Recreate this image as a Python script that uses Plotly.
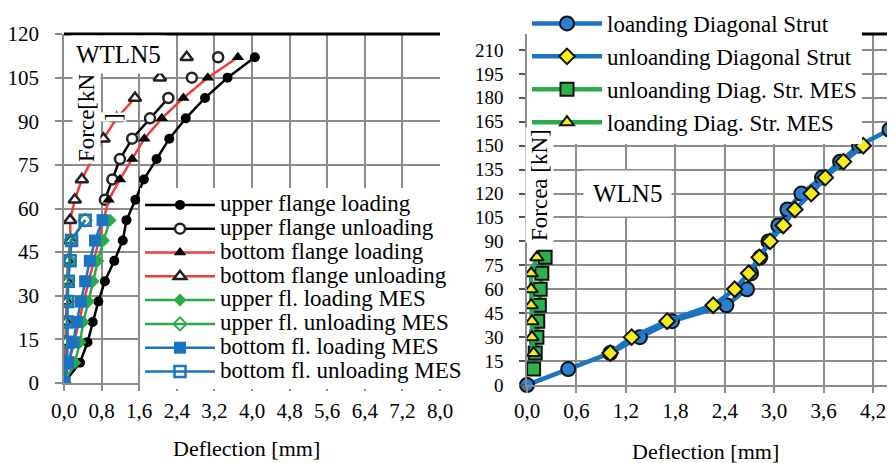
import plotly.graph_objects as go

W, H = 895, 463
OFF = 8  # page body margin of the html page

# ---------------- data: left panel (WTLN5) ----------------
force_left = [0, 7, 14, 21, 28, 35, 42, 49, 56, 63, 70, 77, 84, 91, 98, 105, 112]
upper_loading = [0, 0.34, 0.50, 0.61, 0.73, 0.87, 1.07, 1.25, 1.33, 1.52, 1.70, 1.97, 2.24, 2.59, 3.00, 3.48, 4.06]
upper_unloading_force = [63, 70, 77, 84, 91, 98, 105, 112]
upper_unloading = [0.87, 1.03, 1.19, 1.45, 1.83, 2.22, 2.72, 3.28]
bottom_loading = [0, 0.11, 0.21, 0.32, 0.42, 0.53, 0.63, 0.74, 0.84, 0.95, 1.19, 1.45, 1.71, 2.08, 2.54, 3.06, 3.70]
bottom_unloading = [0, 0.02, 0.03, 0.04, 0.05, 0.06, 0.08, 0.14, 0.13, 0.23, 0.38, 0.60, 0.84, 1.12, 1.51, 2.04, 2.61]
force_mes = [0, 7, 14, 21, 28, 35, 42, 49, 56]
upper_loading_mes = [0, 0.23, 0.34, 0.41, 0.52, 0.62, 0.72, 0.84, 0.98]
upper_unloading_mes = [0, 0.05, 0.07, 0.06, 0.07, 0.08, 0.11, 0.14, 0.45]
bottom_loading_mes = [0, 0.09, 0.20, 0.27, 0.36, 0.45, 0.55, 0.66, 0.82]
bottom_unloading_mes = [0, 0.06, 0.08, 0.07, 0.08, 0.09, 0.13, 0.16, 0.45]
left_xtickvals = [0, 0.8, 1.6, 2.4, 3.2, 4.0, 4.8, 5.6, 6.4, 7.2, 8.0]
left_xticktext = ["0,0", "0,8", "1,6", "2,4", "3,2", "4,0", "4,8", "5,6", "6,4", "7,2", "8,0"]
left_yticks = [0, 15, 30, 45, 60, 75, 90, 105, 120]

# ---------------- data: right panel (WLN5) ----------------
force_right = [0, 10, 20, 30, 40, 50, 60, 70, 80, 90, 100, 110, 120, 130, 140, 150, 160]
loading_ds = [0, 0.50, 1.01, 1.37, 1.76, 2.42, 2.67, 2.72, 2.83, 2.93, 3.05, 3.16, 3.33, 3.58, 3.80, 4.03, 4.40]
force_unload_ds = [20, 30, 40, 50, 60, 70, 80, 90, 100, 110, 120, 130, 140, 150]
unloading_ds = [1.01, 1.27, 1.70, 2.26, 2.52, 2.69, 2.82, 2.95, 3.11, 3.25, 3.45, 3.62, 3.84, 4.08]
force_unload_mes = [10, 20, 30, 40, 50, 60, 70, 80]
unloading_mes = [0.08, 0.10, 0.12, 0.13, 0.15, 0.16, 0.18, 0.22]
force_load_mes = [20, 30, 40, 50, 60, 70, 80]
loading_mes = [0.08, 0.06, 0.06, 0.05, 0.05, 0.05, 0.12]
right_xtickvals = [0, 0.6, 1.2, 1.8, 2.4, 3.0, 3.6, 4.2]
right_xticktext = ["0,0", "0,6", "1,2", "1,8", "2,4", "3,0", "3,6", "4,2"]
right_yticks = [0, 15, 30, 45, 60, 75, 90, 105, 120, 135, 150, 165, 180, 195, 210]

FONT = "Liberation Serif"
GRID = "#8c8c8c"
RED = "#f23c3c"
GREEN = "#2aaa4a"
BLUE = "#1c74c0"


def px(x):
    return (x - OFF) / W


def py(y):
    return 1 - (y - OFF) / H


def big(name):
    return '<span style="font-size:23px">' + name + "</span>"


fig = go.Figure()

# ---- left panel traces ----
fig.add_trace(go.Scatter(x=upper_loading, y=force_left, name=big("upper flange loading"), mode="lines+markers",
                         line=dict(color="black", width=2.5), marker=dict(symbol="circle", size=10, color="black"),
                         legend="legend"))
fig.add_trace(go.Scatter(x=upper_unloading[:6], y=upper_unloading_force[:6], name=big("upper flange unloading"),
                         mode="lines+markers", line=dict(color="black", width=2.5),
                         marker=dict(symbol="circle", size=10, color="white", line=dict(color="#222", width=2.5)),
                         legend="legend"))
fig.add_trace(go.Scatter(x=upper_unloading[6:], y=upper_unloading_force[6:], mode="markers", showlegend=False,
                         marker=dict(symbol="circle", size=10, color="white", line=dict(color="#222", width=2.5))))
fig.add_trace(go.Scatter(x=bottom_loading, y=force_left, name=big("bottom flange loading"), mode="lines+markers",
                         line=dict(color=RED, width=2.5), marker=dict(symbol="triangle-up", size=11, color="black"),
                         legend="legend"))
fig.add_trace(go.Scatter(x=bottom_unloading[:15], y=force_left[:15], name=big("bottom flange unloading"),
                         mode="lines+markers", line=dict(color=RED, width=2.5),
                         marker=dict(symbol="triangle-up", size=11, color="white", line=dict(color="#222", width=2.5)),
                         legend="legend"))
fig.add_trace(go.Scatter(x=bottom_unloading[15:], y=force_left[15:], mode="markers", showlegend=False,
                         marker=dict(symbol="triangle-up", size=11, color="white", line=dict(color="#222", width=2.5))))
fig.add_trace(go.Scatter(x=upper_loading_mes, y=force_mes, name=big("upper fl. loading MES"), mode="lines+markers",
                         line=dict(color=GREEN, width=2.5), marker=dict(symbol="diamond", size=10, color=GREEN),
                         legend="legend"))
fig.add_trace(go.Scatter(x=upper_unloading_mes, y=force_mes, name=big("upper fl. unloading MES"), mode="lines+markers",
                         line=dict(color=GREEN, width=2.5),
                         marker=dict(symbol="diamond-open", size=10, color=GREEN, line=dict(width=2)),
                         legend="legend"))
fig.add_trace(go.Scatter(x=bottom_loading_mes, y=force_mes, name=big("bottom fl. loading MES"), mode="lines+markers",
                         line=dict(color=BLUE, width=2.5), marker=dict(symbol="square", size=12, color=BLUE),
                         legend="legend"))
fig.add_trace(go.Scatter(x=bottom_unloading_mes, y=force_mes, name=big("bottom fl. unloading MES"),
                         mode="lines+markers", line=dict(color=BLUE, width=2.5),
                         marker=dict(symbol="square-open", size=11, color=BLUE, line=dict(width=2.5)),
                         legend="legend"))

# ---- right panel traces ----
fig.add_trace(go.Scatter(x=loading_ds, y=force_right, name="loanding Diagonal Strut", mode="lines+markers",
                         xaxis="x2", yaxis="y2", line=dict(color=BLUE, width=4.5),
                         marker=dict(symbol="circle", size=14, color="#2a80d4", line=dict(color="#111", width=2)),
                         legend="legend2", cliponaxis=False))
fig.add_trace(go.Scatter(x=unloading_ds, y=force_unload_ds, name="unloanding Diagonal Strut", mode="lines+markers",
                         xaxis="x2", yaxis="y2", line=dict(color=BLUE, width=4.5),
                         marker=dict(symbol="diamond", size=12, color="#f5ec1a", line=dict(color="#111", width=2)),
                         legend="legend2"))
fig.add_trace(go.Scatter(x=unloading_mes, y=force_unload_mes, name="unloanding Diag. Str. MES", mode="lines+markers",
                         xaxis="x2", yaxis="y2", line=dict(color=GREEN, width=4.5),
                         marker=dict(symbol="square", size=13, color="#2db14c", line=dict(color="#111", width=2)),
                         legend="legend2"))
fig.add_trace(go.Scatter(x=loading_mes, y=force_load_mes, name="loanding Diag. Str. MES", mode="lines+markers",
                         xaxis="x2", yaxis="y2", line=dict(color=GREEN, width=4.5),
                         marker=dict(symbol="triangle-up", size=12, color="#f5ec1a", line=dict(color="#111", width=2)),
                         legend="legend2"))

axis_common = dict(showgrid=True, gridcolor=GRID, gridwidth=1.6, zeroline=False, showline=True,
                   linecolor=GRID, linewidth=1.6, ticks="outside", tickcolor=GRID, tickwidth=1.6,
                   automargin=False,
                   tickfont=dict(family=FONT, size=21, color="black"))

fig.update_layout(
    width=W, height=H,
    margin=dict(l=0, r=0, t=0, b=0, autoexpand=False),
    paper_bgcolor="white", plot_bgcolor="white",
    font=dict(family=FONT, color="black"),
    xaxis=dict(axis_common, domain=[px(64), px(440)], range=[0, 8.0], tickvals=left_xtickvals,
               ticktext=left_xticktext, ticklen=6, ticklabelstandoff=2, anchor="y"),
    yaxis=dict(axis_common, domain=[py(383), py(34)], range=[0, 120], tickvals=left_yticks, ticklen=7,
               ticklabelstandoff=12, anchor="x"),
    xaxis2=dict(axis_common, domain=[px(527), 1.0], range=[0, 4.563], tickvals=right_xtickvals,
                ticktext=right_xticktext, ticklen=6, ticklabelstandoff=0, anchor="y2"),
    yaxis2=dict(axis_common, domain=[py(385), py(34)], range=[0, 220], tickvals=right_yticks, ticklen=6,
                tickcolor="#555", ticklabelstandoff=12, anchor="x2",
                tickfont=dict(family=FONT, size=19, color="black")),
    legend=dict(x=px(140), xanchor="left", y=py(188), yanchor="top", bgcolor="white", borderwidth=0,
                font=dict(family=FONT, size=16, color="black"), itemwidth=70, tracegroupgap=0,
                traceorder="normal"),
    legend2=dict(x=px(527), xanchor="left", y=py(2), yanchor="top", bgcolor="white", borderwidth=0,
                 font=dict(family=FONT, size=23, color="black"), itemwidth=70, tracegroupgap=0,
                 traceorder="normal"),
    showlegend=True,
)

# top borders
fig.add_shape(type="line", xref="x domain", yref="y domain", x0=0, x1=1, y0=1, y1=1,
              line=dict(color="black", width=3))
fig.add_shape(type="line", xref="x2 domain", yref="y2 domain", x0=0, x1=1, y0=1, y1=1,
              line=dict(color="black", width=3))

ann = [
    dict(text="WTLN5", x=px(118), y=py(54), font=dict(size=25), bgcolor="white", borderpad=5),
    dict(text="Force[kN", x=px(86), y=py(118), textangle=-90, font=dict(size=23), bgcolor="white", borderpad=1),
    dict(text="]", x=px(114), y=py(117), textangle=-90, font=dict(size=23), bgcolor="white", borderpad=0),
    dict(text="WLN5", x=px(627), y=py(194), font=dict(size=25), bgcolor="white", borderpad=9),
    dict(text="Forcea [kN]", x=px(540), y=py(185), textangle=-90, font=dict(size=23), bgcolor="white",
         borderpad=1),
    dict(text="Deflection [mm]", x=px(246), y=py(448), font=dict(size=22)),
    dict(text="Deflection [mm]", x=px(705), y=py(451), font=dict(size=22)),
]
for a in ann:
    a.update(xref="paper", yref="paper", showarrow=False, xanchor="center", yanchor="middle")
    a["font"].update(family=FONT, color="black")
    fig.add_annotation(**a)

fig.write_html("out.html")
